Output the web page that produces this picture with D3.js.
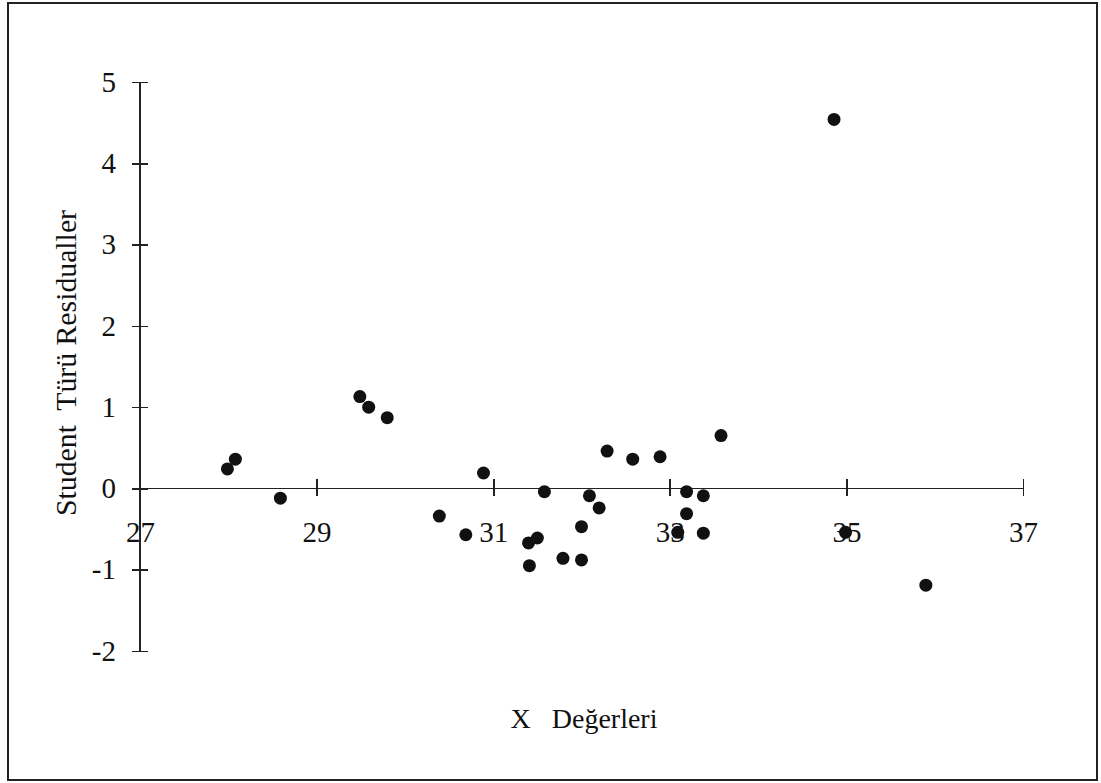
<!DOCTYPE html>
<html>
<head>
<meta charset="utf-8">
<script src="https://cdn.jsdelivr.net/npm/d3@7"></script>
<style>
  body { margin: 0; background: #fff; }
  svg { display: block; }
</style>
</head>
<body>
<div id="chart"></div>
<script>
// values
const xValues = [27.99, 28.08, 28.59, 29.49, 29.59, 29.80, 30.39, 30.69, 30.89, 31.40,
  31.50, 31.41, 31.58, 31.79, 32.00, 32.00, 32.09, 32.20, 32.29, 32.58,
  32.89, 33.19, 33.19, 33.09, 33.38, 33.38, 33.58, 34.86, 34.99, 35.90];
const residuals = [0.24, 0.36, -0.12, 1.13, 1.00, 0.87, -0.34, -0.57, 0.19, -0.67,
  -0.61, -0.95, -0.04, -0.86, -0.88, -0.47, -0.09, -0.24, 0.46, 0.36,
  0.39, -0.04, -0.31, -0.54, -0.09, -0.55, 0.65, 4.54, -0.54, -1.19];
const xTicks = [27, 29, 31, 33, 35, 37];
const yTicks = [-2, -1, 0, 1, 2, 3, 4, 5];
const xTitle = "X   Değerleri";
const yTitle = "Student  Türü Residualler";

const serif = "'Liberation Serif', 'Times New Roman', Tinos, 'DejaVu Serif', serif";
const width = 1101;
const height = 783;

const svg = d3.select("#chart").append("svg").attr("width", width).attr("height", height);

// outer frame
svg.append("rect")
  .attr("x", 8).attr("y", 3)
  .attr("width", 1089).attr("height", 777)
  .attr("fill", "none")
  .attr("stroke", "#222")
  .attr("stroke-width", 2);

const x = d3.scaleLinear().domain([27, 37]).range([140, 1023]);
const y = d3.scaleLinear().domain([-2, 5]).range([651, 82]);

// y axis at x = 27, ticks crossing the line
const yAxis = svg.append("g")
  .attr("transform", `translate(${x(27)},0)`)
  .call(d3.axisLeft(y).tickValues(yTicks).tickSize(8).tickFormat(d3.format("d")));
yAxis.select(".domain").attr("d", `M0,${y(-2)}V${y(5)}`).attr("stroke", "#222").attr("stroke-width", 1.6);
yAxis.selectAll(".tick line").attr("x1", 8).attr("x2", -8).attr("stroke", "#222").attr("stroke-width", 1.6);
yAxis.selectAll(".tick text")
  .attr("x", -24)
  .style("font-family", serif)
  .style("font-size", "29px")
  .attr("fill", "#111")
  .text((d) => (d < 0 ? "-" + Math.abs(d) : d));

// x axis at y = 0
const xAxis = svg.append("g")
  .attr("transform", `translate(0,${y(0)})`)
  .call(d3.axisBottom(x).tickValues(xTicks).tickSize(8).tickFormat(d3.format("d")));
xAxis.select(".domain").attr("d", `M${x(27) - 8},0H${x(37)}`).attr("stroke", "#222").attr("stroke-width", 1.6);
xAxis.selectAll(".tick line").attr("y1", -9).attr("y2", 8).attr("stroke", "#222").attr("stroke-width", 1.6);
xAxis.selectAll(".tick text")
  .attr("y", 54)
  .attr("dy", 0)
  .style("font-family", serif)
  .style("font-size", "29px")
  .attr("fill", "#111");
svg.selectAll(".domain, .tick line").attr("shape-rendering", "crispEdges");

// points
svg.append("g")
  .selectAll("circle")
  .data(xValues.map((v, i) => [v, residuals[i]]))
  .join("circle")
  .attr("cx", (d) => x(d[0]))
  .attr("cy", (d) => y(d[1]))
  .attr("r", 6.5)
  .attr("fill", "#111");

// axis titles
svg.append("text")
  .attr("x", 584)
  .attr("y", 728)
  .attr("text-anchor", "middle")
  .style("font-family", serif)
  .style("font-size", "28px")
  .style("white-space", "pre")
  .attr("fill", "#111")
  .text(xTitle);

svg.append("text")
  .attr("transform", `translate(76,363) rotate(-90)`)
  .attr("text-anchor", "middle")
  .attr("textLength", 306)
  .attr("lengthAdjust", "spacingAndGlyphs")
  .style("font-family", serif)
  .style("font-size", "29px")
  .style("white-space", "pre")
  .attr("fill", "#111")
  .text(yTitle);
</script>
</body>
</html>
